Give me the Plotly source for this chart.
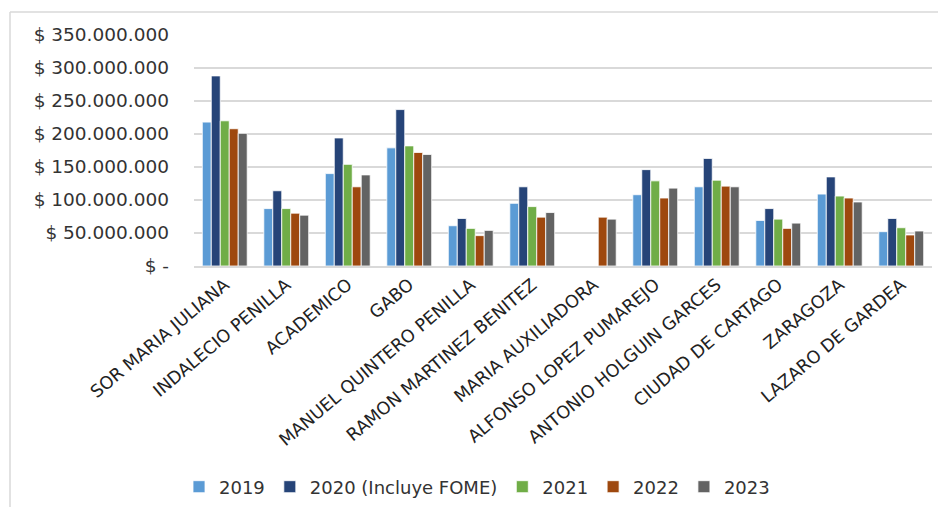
import plotly.graph_objects as go

categories = [
    "SOR MARIA JULIANA", "INDALECIO PENILLA", "ACADEMICO", "GABO",
    "MANUEL QUINTERO PENILLA", "RAMON MARTINEZ BENITEZ", "MARIA AUXILIADORA",
    "ALFONSO LOPEZ PUMAREJO", "ANTONIO HOLGUIN GARCES", "CIUDAD DE CARTAGO",
    "ZARAGOZA", "LAZARO DE GARDEA",
]

v2019 = [218e6, 87e6, 140e6, 179e6, 61e6, 95e6, None, 108e6, 120e6, 69e6, 109e6, 52e6]
v2020 = [288e6, 114e6, 194e6, 237e6, 72e6, 120e6, None, 146e6, 163e6, 87e6, 135e6, 72e6]
v2021 = [220e6, 87e6, 154e6, 182e6, 57e6, 90e6, None, 129e6, 130e6, 71e6, 106e6, 58e6]
v2022 = [208e6, 80e6, 120e6, 172e6, 46e6, 74e6, 74e6, 103e6, 121e6, 57e6, 103e6, 47e6]
v2023 = [201e6, 77e6, 138e6, 169e6, 54e6, 81e6, 71e6, 118e6, 120e6, 65e6, 97e6, 53e6]

series_names = ["2019", "2020 (Incluye FOME)", "2021", "2022", "2023"]
series_values = [v2019, v2020, v2021, v2022, v2023]
series_colors = ["#5B9BD5", "#264478", "#70AD47", "#9E480E", "#636363"]

y_tickvals = [0, 50e6, 100e6, 150e6, 200e6, 250e6, 300e6, 350e6]
y_ticktext = ["$ -", "$ 50.000.000", "$ 100.000.000", "$ 150.000.000",
              "$ 200.000.000", "$ 250.000.000", "$ 300.000.000", "$ 350.000.000"]

FONT = "DejaVu Sans"
TXT = "#333333"

fig = go.Figure()
for name, vals, col in zip(series_names, series_values, series_colors):
    fig.add_trace(go.Bar(
        x=categories, y=vals, name=name,
        marker=dict(color=col, line=dict(color="white", width=0.8)),
    ))

# page has an 8px body margin; figure is sized to fill the rest of the window
OFF = 8
W, H = 946 - OFF, 507 - OFF
L, R, T, B = 194 - OFF, 14, 35 - OFF, 241
pw = W - L - R
ph = H - T - B

def px_x(p):
    return (p - OFF - L) / pw

def px_y(p):
    return (H - B - (p - OFF)) / ph

fig.update_layout(
    width=W, height=H,
    margin=dict(l=L, r=R, t=T, b=B, autoexpand=False),
    paper_bgcolor="white", plot_bgcolor="white",
    barmode="group", bargap=0.27, bargroupgap=0,
    font=dict(family=FONT, color=TXT),
    showlegend=True,
    legend=dict(
        orientation="h", xref="container", yref="container",
        x=0.5, xanchor="center", y=1 - (487 - OFF) / H, yanchor="middle",
        font=dict(family=FONT, size=18, color=TXT),
        itemwidth=30, tracegroupgap=0,
    ),
    xaxis=dict(
        tickangle=-40, tickfont=dict(family=FONT, size=17.5, color="#222222"),
        showline=True, linecolor="#D9D9D9", linewidth=1.5,
        showgrid=False, ticks="",
    ),
    yaxis=dict(
        range=[0, 350e6], tickvals=y_tickvals, ticktext=y_ticktext,
        tickfont=dict(family=FONT, size=18.5, color=TXT),
        showgrid=True, gridcolor="#D9D9D9", gridwidth=1.5,
        zeroline=False, showline=False, ticks="",
        ticklabelstandoff=24,
    ),
    shapes=[
        dict(type="line", xref="paper", yref="paper",
             x0=px_x(10), x1=px_x(960), y0=px_y(12), y1=px_y(12),
             line=dict(color="#D9D9D9", width=1.5)),
        dict(type="line", xref="paper", yref="paper",
             x0=px_x(10), x1=px_x(10), y0=px_y(12), y1=px_y(520),
             line=dict(color="#D9D9D9", width=1.5)),
    ],
)

fig.write_html("out.html")
